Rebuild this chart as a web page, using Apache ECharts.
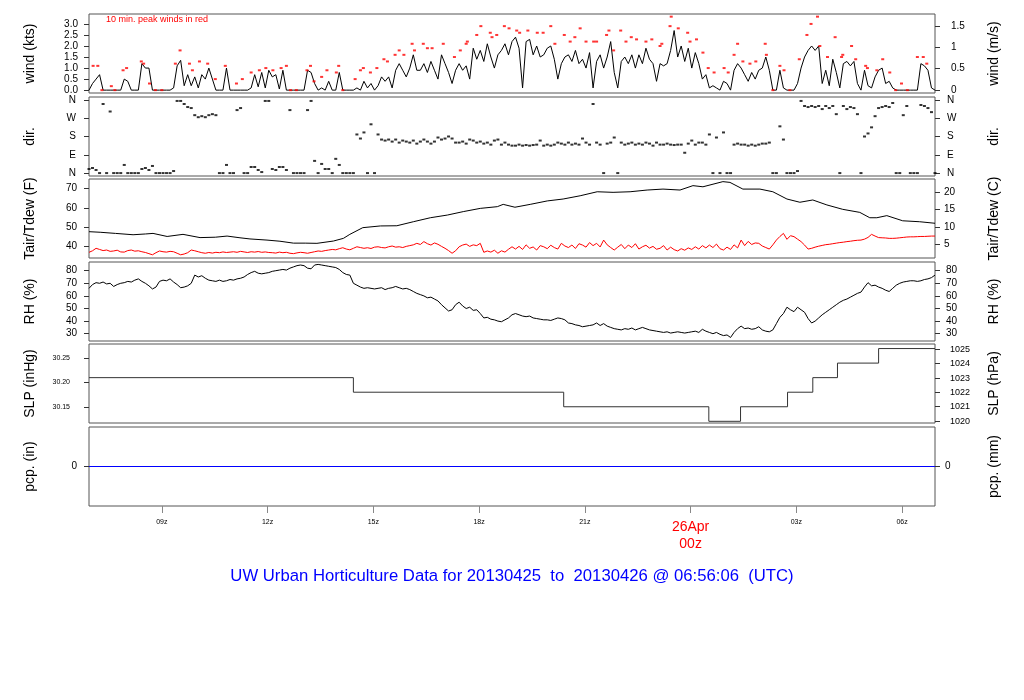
<!DOCTYPE html>
<html><head><meta charset="utf-8">
<script src="https://cdn.jsdelivr.net/npm/echarts@6/dist/echarts.min.js"></script>
<style>html,body{margin:0;padding:0;background:#fff}#c{width:1024px;height:700px}</style>
</head><body><div id="c"></div>
<script>
// ---- time frame: 2013-04-25 06:56 UTC to 2013-04-26 06:56 UTC (hours since 25 Apr 00z)
const START_H = 6 + 56/60;
const END_H = START_H + 24;
const STEP_MIN = 6;               // sampling step of the regular series below
const tickHours = [9,12,15,18,21,24,27,30];
const tickLabels = ['09z','12z','15z','18z','21z','26Apr\n00z','03z','06z'];

// ---- wind speed (kts), every 6 min
const windKts = [
0,0.3,0.5,0.7,0,0,0,0,0,0,
0.5,0.4,0,0,0,1.2,1.0,1.0,0,0,
0,0,0,0,0.1,1.1,1.35,0.2,0.7,0.2,
0.6,0.1,0.7,0.5,1.0,0.5,0,0,0,1.0,
0,0,0,0,0,0,0.1,0.7,0.15,0.8,
0.1,0.9,0.6,0.7,0.05,0.9,0,0,0,0,
0,0,0.9,0.8,0.3,0,0.1,0,0.4,0,
0,0.8,0,0,0,0,0.1,0,0.4,0.1,
0.3,0,0.2,0.6,0.4,0.6,0.1,0.9,1.2,0.9,
0.6,1.0,1.6,0.9,0.9,1.2,0.8,1.3,0.9,0.5,
1.6,1.2,0.8,0.3,0.9,1.2,0.9,1.1,0.5,1.9,
1.4,1.8,1.3,2.1,1.5,1.0,1.6,1.8,2.1,1.6,
2.2,2.4,1.9,0.1,2.2,2.3,1.6,2.0,1.5,1.6,
1.9,2.0,1.4,0.5,1.2,1.5,1.6,1.3,1.8,1.2,
1.4,1.0,1.7,0.1,1.3,1.6,1.0,1.5,2.2,0.8,
0.1,1.3,1.5,1.2,1.6,1.0,1.6,1.2,1.9,1.4,
1.2,0.4,1.2,1.1,1.2,1.8,2.7,1.5,2.0,1.3,
1.9,1.0,1.7,1.2,0.5,0.7,0.1,0.2,0.1,0,
0.4,0.3,0,0.9,1.2,1.0,0.7,0.4,0.8,0.5,
0.9,1.0,1.5,0.9,0,0,0.9,0.1,0,0,
0,0.3,1.0,1.5,1.8,2.0,1.8,2.0,0.3,0.9,
0.2,1.4,0.8,0.1,1.2,1.3,1.1,1.3,0.3,0,
0.9,0.2,0.1,0.6,0.9,1.0,0.3,0.4,0.1,0,
0,0,0,0,0,0,1.2,1.1,0.9,0.1,
0];

// ---- 10 min peak winds (minutes after start, kts)
const peakMin = [7,15,22,38,44,58,64,89,93,103,113,124,147,155,171,176,188,202,215,232,251,261,276,290,301,313,327,336,343,353,
371,377,383,396,405,421,425,432,453,462,467,479,490,502,508,521,528,536,550,554,569,576,584,603,622,632,642,644,660,667,
683,686,694,707,715,728,733,747,763,773,786,793,809,819,827,836,846,859,864,881,885,893,905,914,923,932,948,958,972,975,
989,991,1003,1019,1023,1034,1045,1054,1064,1081,1088,1098,1104,1113,1125,1135,1151,1153,1164,1176,1183,1193,1209,1222,1229,1240,1244,1257,1270,1281,
1283,1298,1305,1322,1325,1341,1351,1363,1373,1383,1393,1410,1420,1426];
const peakKts = [1.1,1.1,0,0.18,0,0.9,1.0,1.3,1.2,0.3,0,0,1.2,1.8,1.2,0.9,1.3,1.2,0.5,1.1,0.3,0.5,0.8,0.9,1.0,0.9,1.0,1.1,0,0,
0.9,1.1,0.4,0.6,0.9,0.8,1.1,0,0.5,0.9,1.0,0.8,1.0,1.4,1.3,1.6,1.8,1.6,2.1,1.8,2.1,1.9,1.9,2.1,1.5,1.8,2.1,2.2,2.5,2.9,
2.6,2.4,2.5,2.9,2.8,2.7,2.6,2.7,2.6,2.6,2.9,2.1,2.5,2.2,2.4,2.8,2.2,2.2,2.2,2.5,2.7,1.8,2.7,2.2,2.4,2.3,2.2,2.3,2.0,2.1,
2.9,3.33,2.8,2.6,2.2,2.3,1.7,1.0,0.8,1.0,0.8,1.6,2.1,1.3,1.2,1.3,2.1,1.6,0,1.1,0.9,0,1.4,2.5,3.0,3.33,2.0,1.5,2.4,1.5,
1.6,2.0,1.4,1.1,1.0,0.9,1.4,0.8,0,0.3,0,1.5,1.5,1.2];

// ---- wind direction (deg), every 6 min
const dirDeg = [
20,25,15,0,340,0,303,0,0,0,
40,0,0,0,0,20,25,15,35,0,
0,0,0,0,10,355,355,340,325,320,
285,275,280,275,285,290,285,0,0,40,
0,0,310,320,0,0,30,30,15,5,
355,355,20,15,30,30,15,310,0,0,
0,0,310,355,60,0,45,20,20,0,
70,40,0,0,0,0,190,170,200,0,
240,0,190,165,160,165,155,165,150,160,
155,150,160,145,155,165,155,145,155,175,
165,170,180,170,150,150,155,145,165,160,
150,155,145,150,140,160,165,140,150,140,
135,135,140,135,138,135,138,140,160,135,
140,135,140,150,145,140,150,140,145,140,
170,150,140,340,150,140,0,145,150,175,
0,150,140,145,150,140,145,140,150,145,
135,150,140,140,145,140,138,140,140,100,
145,160,140,150,150,140,190,0,175,0,
200,0,0,140,145,140,140,135,140,135,
140,145,145,150,0,0,230,165,0,0,
0,10,355,330,325,330,325,330,315,330,
320,330,290,0,330,315,325,320,290,0,
180,195,225,280,320,325,330,325,345,0,
0,285,330,0,0,0,335,330,320,300,
0];

// ---- air temperature (F) at read-off times (minutes after start)
const tairMin = [0,19,45,75,96,109,133,160,189,215,235,257,274,303,325,348,368,388,416,433,444,466,496,524,552,581,610,637,666,695,
705,725,751,780,807,836,865,892,921,950,977,1006,1028,1045,1079,1091,1113,1142,1164,1188,1210,1232,1256,1283,1312,1329,1341,1358,1385,1414,1440];
const tairF = [47.5,47.2,46.6,45.9,46.3,46.6,45.0,46.1,44.4,44.6,45.2,44.3,43.7,43.1,42.5,41.5,41.5,41.4,42.6,44.0,46.1,49.6,50.5,50.6,52.7,54.8,56.2,58.0,59.7,60.6,
61.8,60.3,61.8,63.6,64.6,66.3,68.4,68.1,68.4,69.3,69.8,69.3,71.6,71.0,73.7,73.3,69.8,69.8,68.4,64.6,62.9,64.1,61.5,59.2,57.6,54.8,54.8,55.9,53.2,52.7,51.9];

// ---- dew point (F), every 6 min
const tdewF = [
36.7,37.5,38.8,38.2,37.6,37.9,37.2,37.4,37.8,36.9,
36.8,37.6,37.9,37.3,37.5,37.0,36.6,36.0,35.4,36.5,
37.4,37.0,36.8,37.2,37.0,36.2,35.4,35.8,36.5,37.9,
37.5,37.0,36.5,36.2,36.6,36.3,36.7,36.5,36.9,36.6,
36.8,37.0,36.7,37.2,36.9,36.6,37.0,36.8,37.1,36.7,
36.9,36.6,36.5,36.3,36.8,36.5,36.7,36.2,36.0,36.4,
36.7,36.5,36.2,36.6,37.0,37.4,37.2,37.6,37.9,38.2,
38.0,38.6,39.1,38.4,38.0,38.8,39.6,39.2,38.8,39.1,
38.7,39.4,39.6,39.2,39.0,39.6,40.0,39.4,39.6,39.2,
39.8,40.2,40.6,41.4,40.8,42.3,41.2,40.5,41.6,40.9,
39.8,38.8,37.6,36.2,37.5,39.6,40.5,41.0,39.8,40.6,
40.2,41.4,36.7,37.4,36.8,37.8,36.2,37.5,36.8,38.3,
39.6,38.4,39.8,38.2,40.6,38.8,39.5,37.9,40.2,39.6,
38.6,40.4,39.2,38.4,41.4,40.0,39.2,40.5,38.7,41.2,
40.5,39.4,41.8,40.2,41.4,39.5,43.1,40.6,39.2,37.9,
39.4,40.8,38.6,40.5,39.2,41.2,38.4,39.6,40.4,38.9,
39.8,38.3,38.8,40.2,37.9,39.4,38.1,37.4,38.6,37.8,
39.0,38.2,39.6,38.4,40.2,39.0,40.5,39.2,41.0,38.6,
37.9,39.4,38.2,40.6,39.0,43.1,40.2,42.4,40.8,41.6,
41.4,40.0,39.2,38.4,40.6,43.1,45.0,46.6,43.5,45.4,
44.9,43.6,42.3,40.5,38.4,38.8,39.4,39.9,40.3,40.7,
40.9,41.2,41.5,41.8,42.0,42.3,42.5,42.8,43.0,43.1,
43.6,44.5,46.1,45.2,44.4,44.3,44.2,44.0,44.0,44.1,
44.3,44.5,44.7,44.8,44.8,44.9,45.0,45.0,45.1,45.2,
45.2];

// ---- relative humidity (%), every 6 min
const rhPct = [
66,69,70.5,70,71,69.5,70,67.5,69,70,
70.5,71.5,71,72.5,73.5,71.5,70,68,65.5,67,
71.5,72.5,72,73.5,71,69,66.5,67,68,70,
76.5,75,76,74,72.5,72,71.5,72.5,71.5,72,
73,72.5,73.5,74,75,77,78.5,79.5,78,77.5,
78,78.5,79.5,80,80.5,81,80.5,82,83,84,
84.5,84,82,81.5,84.5,85,84.5,84,83.5,83,
82.5,81,78.5,77,76.5,70,68.5,67,66,66.5,
66,65.5,66,66.5,65,66,66.5,67.5,66.5,65.5,
66,65,63.5,62,61,60,58.5,59,57.5,56,
53,50.5,48,49,53,55,52,50,51,48.5,
49,46,42.5,43,41.5,41,40,39.5,41,42.5,
45,46,45,44,43.5,44,42.5,42,41.5,41,
41,40.5,41.5,42.5,42,41,38.5,38,37,36.5,
35.5,36,36.5,37,38.5,36.5,38,36,35,34,
33.5,33,34,33.5,34.5,33,34,35,34,33,
32.5,32,31.5,31,31.5,30.5,31,31.5,31,30.5,
31,31.5,32,31,33.5,32,31,30,31,29.5,
28.5,29,27,31,34,36,34,34.5,33.5,34,
35.5,33,32,31.5,33,38,43,46,51,49,
47.5,51,49,47,42,38.5,40,42.5,45,47,
49,51,53,55,56.5,57.5,59,60.5,62,63,
67,70.5,68,68.5,67,66,64.5,63.5,66,68.5,
70,71,71.5,72,72,71.5,72,73,73.5,74.5,
76.5];

// ---- sea level pressure (inHg), value from each time on (minutes after start)
const slpMin = [0,450,808,1055,1109,1189,1232,1274,1344,1440];
const slpInHg = [30.21,30.18,30.15,30.12,30.15,30.18,30.21,30.24,30.27,30.27];

// ---- precipitation (in)
const pcpMin = [0,1440];
const pcpIn = [0,0];

// ---- axis tick values
const windTicksKts = [0,0.5,1,1.5,2,2.5,3];
const windTicksMs = [0,0.5,1,1.5];
const dirTicks = [0,90,180,270,360];
const dirLabels = ['N','E','S','W','N'];
const tempTicksF = [40,50,60,70];
const tempTicksC = [5,10,15,20];
const rhTicks = [30,40,50,60,70,80];
const slpTicksIn = [30.15,30.20,30.25];
const slpTicksHpa = [1020,1021,1022,1023,1024,1025];
const pcpTicks = [0];

const KT2MS = 0.514444, IN2HPA = 33.8639, IN2MM = 25.4;
const FONT = 'Liberation Sans, Arial, Helvetica, sans-serif';
const gx = i => START_H + i*STEP_MIN/60;
const mh = m => START_H + m/60;

const tops = [14,97,179,262,344,427];
const H = 79;
const grid = tops.map(t => ({left:89, right:89, top:t, height:H, show:true, borderColor:'#555', borderWidth:1, backgroundColor:'transparent'}));

const xAxis = tops.map((t,k) => {
  const last = k === tops.length-1;
  return {
    type:'value', gridIndex:k, min:START_H, max:END_H, position:'bottom',
    axisLine:{show:false, onZero:false}, splitLine:{show:false},
    axisTick:{show:last, customValues:tickHours, length:7, lineStyle:{color:'#888'}},
    axisLabel:{show:last, customValues:tickHours, margin:13,
      formatter: v => {
        const lab = tickLabels[tickHours.indexOf(Math.round(v))] || '';
        return lab.indexOf('\n') >= 0 ? lab.split('\n').map(s => '{r|'+s+'}').join('\n') : '{n|'+lab+'}';
      },
      rich:{ n:{fontSize:7, fontFamily:FONT, color:'#000'}, r:{fontSize:14, fontFamily:FONT, color:'#ff0000', lineHeight:17} }
    }
  };
});

function yAx(k, pos, min, max, ticks, fmt, name, fs, margin, gap) {
  return {
    type:'value', gridIndex:k, position:pos, min:min, max:max,
    axisLine:{show:false, onZero:false}, splitLine:{show:false},
    axisTick:{show:true, customValues:ticks, length:5, lineStyle:{color:'#333'}},
    axisLabel:{customValues:ticks, formatter:fmt, fontSize:fs, fontFamily:FONT, color:'#000', margin:margin},
    name:name, nameLocation:'middle', nameRotate:90, nameGap:gap,
    nameTextStyle:{fontSize:14, fontFamily:FONT, color:'#000'}
  };
}
const windMin = -0.13, windMax = 3.45;
const dirMin = -14.4, dirMax = 374.4;
const tMin = 33.72, tMax = 75.08;
const rhMin = 24.2, rhMax = 86.9;
const pMin = 30.1165, pMax = 30.2794;
const cMin = -1, cMax = 1;
const fC = f => (f-32)/1.8;
const yAxis = [
  yAx(0,'left', windMin, windMax, windTicksKts, v => v.toFixed(1), 'wind (kts)', 10, 11, 52),
  yAx(0,'right', windMin*KT2MS, windMax*KT2MS, windTicksMs, v => String(+v.toFixed(1)), 'wind (m/s)', 10, 16, 52),
  yAx(1,'left', dirMin, dirMax, dirTicks, v => dirLabels[dirTicks.indexOf(Math.round(v))], 'dir.', 10, 13, 52),
  yAx(1,'right', dirMin, dirMax, dirTicks, v => dirLabels[dirTicks.indexOf(Math.round(v))], 'dir.', 10, 12, 52),
  yAx(2,'left', tMin, tMax, tempTicksF, v => String(Math.round(v)), 'Tair/Tdew (F)', 10, 12, 52),
  yAx(2,'right', fC(tMin), fC(tMax), tempTicksC, v => String(Math.round(v)), 'Tair/Tdew (C)', 10, 9, 52),
  yAx(3,'left', rhMin, rhMax, rhTicks, v => String(Math.round(v)), 'RH (%)', 10, 12, 52),
  yAx(3,'right', rhMin, rhMax, rhTicks, v => String(Math.round(v)), 'RH (%)', 10, 11, 52),
  yAx(4,'left', pMin, pMax, slpTicksIn, v => v.toFixed(2), 'SLP (inHg)', 7, 19, 52),
  yAx(4,'right', pMin*IN2HPA, pMax*IN2HPA, slpTicksHpa, v => String(Math.round(v)), 'SLP (hPa)', 9, 15, 52),
  yAx(5,'left', cMin, cMax, pcpTicks, v => String(Math.round(v)), 'pcp. (in)', 10, 12, 52),
  yAx(5,'right', cMin*IN2MM, cMax*IN2MM, pcpTicks, v => String(Math.round(v)), 'pcp. (mm)', 10, 10, 52)
];

const series = [
  {type:'line', xAxisIndex:0, yAxisIndex:0, data: windKts.map((v,i)=>[gx(i),v]), showSymbol:false, lineStyle:{color:'#000', width:1}, z:2},
  {type:'scatter', xAxisIndex:0, yAxisIndex:0, data: peakKts.map((v,i)=>[mh(peakMin[i]),v]), symbol:'rect', symbolSize:[3,2], itemStyle:{color:'#ff0000'}, z:3},
  {type:'scatter', xAxisIndex:1, yAxisIndex:2, data: dirDeg.map((v,i)=>[gx(i),v]), symbol:'rect', symbolSize:[3,2], itemStyle:{color:'#000'}},
  {type:'line', xAxisIndex:2, yAxisIndex:4, data: tairF.map((v,i)=>[mh(tairMin[i]),v]), showSymbol:false, lineStyle:{color:'#000', width:1}},
  {type:'line', xAxisIndex:2, yAxisIndex:4, data: tdewF.map((v,i)=>[gx(i),v]), showSymbol:false, lineStyle:{color:'#ff0000', width:1}},
  {type:'line', xAxisIndex:3, yAxisIndex:6, data: rhPct.map((v,i)=>[gx(i),v]), showSymbol:false, lineStyle:{color:'#000', width:1}},
  {type:'line', step:'end', xAxisIndex:4, yAxisIndex:8, data: slpInHg.map((v,i)=>[mh(slpMin[i]),v]), showSymbol:false, lineStyle:{color:'#333', width:1}},
  {type:'line', xAxisIndex:5, yAxisIndex:10, data: pcpIn.map((v,i)=>[mh(pcpMin[i]),v]), showSymbol:false, lineStyle:{color:'#0000ff', width:1}}
];

const chart = echarts.init(document.getElementById('c'), null, {renderer:'canvas'});
chart.setOption({
  animation:false,
  backgroundColor:'#fff',
  textStyle:{fontFamily:FONT},
  title:[
    {text:'UW Urban Horticulture Data for 20130425  to  20130426 @ 06:56:06  (UTC)', left:'center', top:568, padding:0,
     textStyle:{color:'#0000ff', fontSize:16.7, fontWeight:'normal', fontFamily:FONT}},
    {text:'10 min. peak winds in red', left:106, top:15, padding:0,
     textStyle:{color:'#ff0000', fontSize:9, fontWeight:'normal', fontFamily:FONT}}
  ],
  grid: grid, xAxis: xAxis, yAxis: yAxis, series: series
});
</script></body></html>
